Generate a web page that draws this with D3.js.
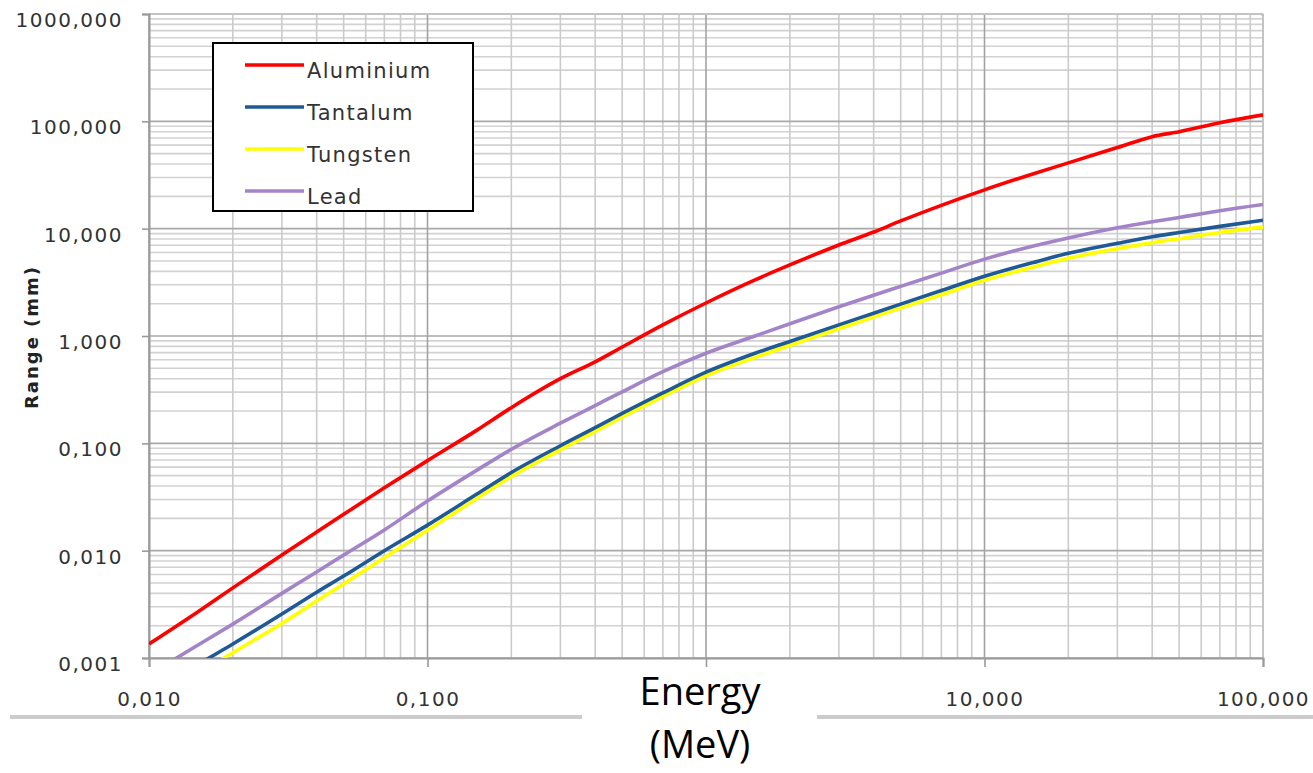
<!DOCTYPE html>
<html>
<head>
<meta charset="utf-8">
<script src="https://cdn.jsdelivr.net/npm/d3@7"></script>
<style>
  body { margin: 0; background: #fff; }
  svg { display: block; }
</style>
</head>
<body>
<svg width="1313" height="773"></svg>
<script>
// electron range per material (MeV -> mm)
const energy = [0.01, 0.015, 0.02, 0.03, 0.04, 0.05, 0.07, 0.1, 0.15, 0.2, 0.3, 0.4, 0.5, 0.7, 1, 1.5, 2, 3, 4, 5, 7, 10, 15, 20, 30, 40, 50, 70, 100];
const aluminium = [0.00135, 0.0027, 0.0045, 0.0091, 0.0149, 0.0218, 0.0385, 0.069, 0.132, 0.215, 0.40, 0.575, 0.79, 1.27, 2.03, 3.33, 4.59, 7.05, 9.3, 11.8, 16.5, 23.0, 32.5, 41.0, 57.0, 72.0, 80.0, 97.0, 115.0];
const tantalum = [0.00044, 0.00087, 0.00135, 0.00257, 0.0041, 0.0058, 0.0100, 0.0173, 0.0335, 0.0535, 0.095, 0.14, 0.19, 0.295, 0.46, 0.69, 0.89, 1.27, 1.63, 1.98, 2.65, 3.6, 4.85, 5.9, 7.3, 8.4, 9.2, 10.5, 12.0];
const tungsten = [0.00036, 0.00071, 0.00112, 0.0021, 0.0034, 0.0049, 0.0086, 0.0155, 0.0305, 0.049, 0.087, 0.129, 0.175, 0.272, 0.425, 0.63, 0.815, 1.17, 1.5, 1.82, 2.42, 3.3, 4.4, 5.3, 6.5, 7.4, 8.05, 9.2, 10.4];
const lead = [0.0007, 0.00132, 0.00207, 0.0040, 0.00633, 0.0091, 0.0156, 0.029, 0.056, 0.088, 0.154, 0.225, 0.302, 0.465, 0.69, 1.0, 1.3, 1.87, 2.4, 2.9, 3.85, 5.2, 6.9, 8.2, 10.2, 11.6, 12.7, 14.7, 16.8];

const seriesNames = ['Aluminium', 'Tantalum', 'Tungsten', 'Lead'];
const seriesValues = [aluminium, tantalum, tungsten, lead];
const seriesColors = ['#ff0000', '#1f5a96', '#ffff00', '#a384c8'];

const xTicks = [0.01, 0.1, 10, 100]; // 1,000 sits under the axis title box
const yTicks = [0.001, 0.01, 0.1, 1, 10, 100, 1000];

const plotLeft = 149;
const plotRight = 1263;
const plotTop = 14;
const plotBottom = 658;

const svg = d3.select('svg');
const fmt = d3.formatLocale({ decimal: ',', thousands: '.', grouping: [3], currency: ['', ''] }).format('.3f');

const x = d3.scaleLog().domain([0.01, 100]).range([plotLeft, plotRight]);
const y = d3.scaleLog().domain([0.001, 1000]).range([plotBottom, plotTop]);

function isMajor(v) {
  return Math.abs(Math.log10(v) - Math.round(Math.log10(v))) < 1e-9;
}

// grid
const grid = svg.append('g').attr('class', 'grid');
grid.selectAll('.hgrid')
  .data(y.ticks().filter(v => !isMajor(v)))
  .enter().append('line')
  .attr('x1', plotLeft).attr('x2', plotRight)
  .attr('y1', d => y(d)).attr('y2', d => y(d))
  .attr('stroke', '#d2d2d2')
  .attr('stroke-width', 1.6);
grid.selectAll('.vgrid')
  .data(x.ticks().filter(v => !isMajor(v)))
  .enter().append('line')
  .attr('y1', plotTop).attr('y2', plotBottom)
  .attr('x1', d => x(d)).attr('x2', d => x(d))
  .attr('stroke', '#cbcbcb')
  .attr('stroke-width', 1.6);
grid.selectAll('.hmajor')
  .data(yTicks)
  .enter().append('line')
  .attr('x1', plotLeft).attr('x2', plotRight)
  .attr('y1', d => y(d)).attr('y2', d => y(d))
  .attr('stroke', '#a9a9a9')
  .attr('stroke-width', 1.6);
grid.selectAll('.vmajor')
  .data([0.01, 0.1, 1, 10, 100])
  .enter().append('line')
  .attr('y1', plotTop).attr('y2', plotBottom)
  .attr('x1', d => x(d)).attr('x2', d => x(d))
  .attr('stroke', '#a2a2a2')
  .attr('stroke-width', 1.6);

// plot frame (top / right)
svg.append('path')
  .attr('d', `M${plotLeft},${plotTop}H${plotRight - 3}Q${plotRight},${plotTop} ${plotRight},${plotTop + 3}V${plotBottom}`)
  .attr('fill', 'none')
  .attr('stroke', '#c4c4c4')
  .attr('stroke-width', 2);

// axes
const yAxis = svg.append('g')
  .attr('transform', `translate(${plotLeft},0)`)
  .call(d3.axisLeft(y).tickValues(yTicks).tickSize(7).tickPadding(19).tickFormat(fmt));
const xAxis = svg.append('g')
  .attr('transform', `translate(0,${plotBottom})`)
  .call(d3.axisBottom(x).tickValues([0.01, 0.1, 1, 10, 100]).tickSize(9).tickPadding(25).tickFormat(fmt));
xAxis.selectAll('.tick text').filter(d => !xTicks.includes(d)).remove();

[yAxis, xAxis].forEach((axis) => {
  axis.select('.domain').attr('stroke', '#9a9a9a').attr('stroke-width', 2);
  axis.selectAll('.tick line').attr('stroke', '#9a9a9a').attr('stroke-width', 1.6);
  axis.selectAll('.tick text')
    .attr('fill', '#333')
    .style('font-family', '"DejaVu Sans", sans-serif')
    .style('font-size', '20px')
    .style('letter-spacing', '1.5px');
});
yAxis.selectAll('.tick text').attr('y', 6);

svg.append('text')
  .attr('transform', 'translate(38,337) rotate(-90)')
  .attr('text-anchor', 'middle')
  .attr('fill', '#222')
  .style('font-family', '"DejaVu Sans", sans-serif')
  .style('font-weight', 'bold')
  .style('font-size', '18px')
  .style('letter-spacing', '2px')
  .text('Range (mm)');

// curves
svg.append('clipPath').attr('id', 'plot-clip')
  .append('rect')
  .attr('x', plotLeft).attr('y', plotTop)
  .attr('width', plotRight - plotLeft).attr('height', plotBottom - plotTop);

const line = d3.line()
  .x(d => x(d[0]))
  .y(d => y(d[1]))
  .curve(d3.curveMonotoneX);

const drawOrder = [0, 2, 1, 3];
svg.append('g')
  .attr('clip-path', 'url(#plot-clip)')
  .selectAll('path')
  .data(drawOrder)
  .enter().append('path')
  .attr('d', i => line(energy.map((e, k) => [e, seriesValues[i][k]])))
  .attr('fill', 'none')
  .attr('stroke', i => seriesColors[i])
  .attr('stroke-width', 3.6)
  .attr('stroke-linejoin', 'round');

// legend
const legend = svg.append('g').attr('class', 'legend');
legend.append('rect')
  .attr('x', 213).attr('y', 43)
  .attr('width', 260).attr('height', 168)
  .attr('fill', '#fff')
  .attr('stroke', '#000')
  .attr('stroke-width', 2);
const item = legend.selectAll('.item')
  .data(seriesNames)
  .enter().append('g')
  .attr('transform', (d, i) => `translate(0,${65 + i * 42})`);
item.append('line')
  .attr('x1', 245).attr('x2', 304)
  .attr('stroke', (d, i) => seriesColors[i])
  .attr('stroke-width', 3.6);
item.append('text')
  .attr('x', 307).attr('y', 13)
  .attr('fill', '#333')
  .style('font-family', '"DejaVu Sans", sans-serif')
  .style('font-size', '21px')
  .style('letter-spacing', '1.3px')
  .text(d => d);

// bottom rule, broken by the axis title
svg.append('line')
  .attr('x1', 10).attr('x2', 582).attr('y1', 717).attr('y2', 717)
  .attr('stroke', '#cccccc').attr('stroke-width', 4);
svg.append('line')
  .attr('x1', 817).attr('x2', 1313).attr('y1', 717).attr('y2', 717)
  .attr('stroke', '#cccccc').attr('stroke-width', 4);

['Energy', '(MeV)'].forEach((t, i) => {
  svg.append('text')
    .attr('x', 700)
    .attr('y', 705 + i * 53)
    .attr('text-anchor', 'middle')
    .attr('fill', '#000')
    .style('font-family', '"Open Sans", sans-serif')
    .style('font-size', '38px')
    .text(t);
});
</script>
</body>
</html>
